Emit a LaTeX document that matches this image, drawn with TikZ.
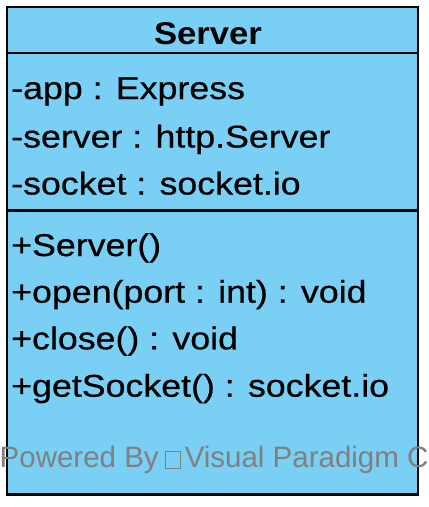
\documentclass[tikz,border=0pt]{standalone}
\usepackage{fontspec}
\setmainfont{Liberation Sans}
\newfontfamily\umlfont{Liberation Sans}[FakeStretch=1.135,FakeBold=0.6]
\newfontfamily\umltitlefont{Liberation Sans Bold}[FakeStretch=1.1]
\definecolor{classfill}{RGB}{122,207,245}
\definecolor{wmgray}{RGB}{128,128,128}
\begin{document}
\begin{tikzpicture}[x=1pt,y=-1pt,
  border/.style={line width=2.8pt,draw=black},
  member/.style={anchor=base west,inner sep=0pt,font=\umlfont\fontsize{31.5}{36}\selectfont},
  title/.style={anchor=base,inner sep=0pt,font=\umltitlefont\fontsize{31.5}{36}\selectfont},
  watermark/.style={anchor=base west,inner sep=0pt,text=wmgray,font=\fontsize{29.5}{34}\selectfont}]
\useasboundingbox (0,0) rectangle (429,507);
\fill[classfill] (7,7) rectangle (418,494.5);
\draw[border] (7,7) rectangle (418,494.5);
\draw[border] (7,53) -- (418,53);
\draw[border] (7,210.5) -- (418,210.5);
\node[title] (name) at (208,44.5) {Server};
\node[member] (a1) at (11,99) {-app : Express};
\node[member] (a2) at (11,147.5) {-server : http.Server};
\node[member] (a3) at (11,194.5) {-socket : socket.io};
\node[member] (m1) at (11,256) {+Server()};
\node[member] (m2) at (11,302.7) {+open(port : int) : void};
\node[member] (m3) at (11,349.3) {+close() : void};
\node[member] (m4) at (11,396.7) {+getSocket() : socket.io};
\node[watermark] (wm) at (-0.5,467.5) {Powered By\hspace{6pt}{\setlength\fboxrule{0.8pt}\setlength\fboxsep{0pt}\fbox{\rule{0pt}{15.4pt}\hspace{14.4pt}}}\hspace{4pt}Visual Paradigm C};
\end{tikzpicture}
\end{document}
